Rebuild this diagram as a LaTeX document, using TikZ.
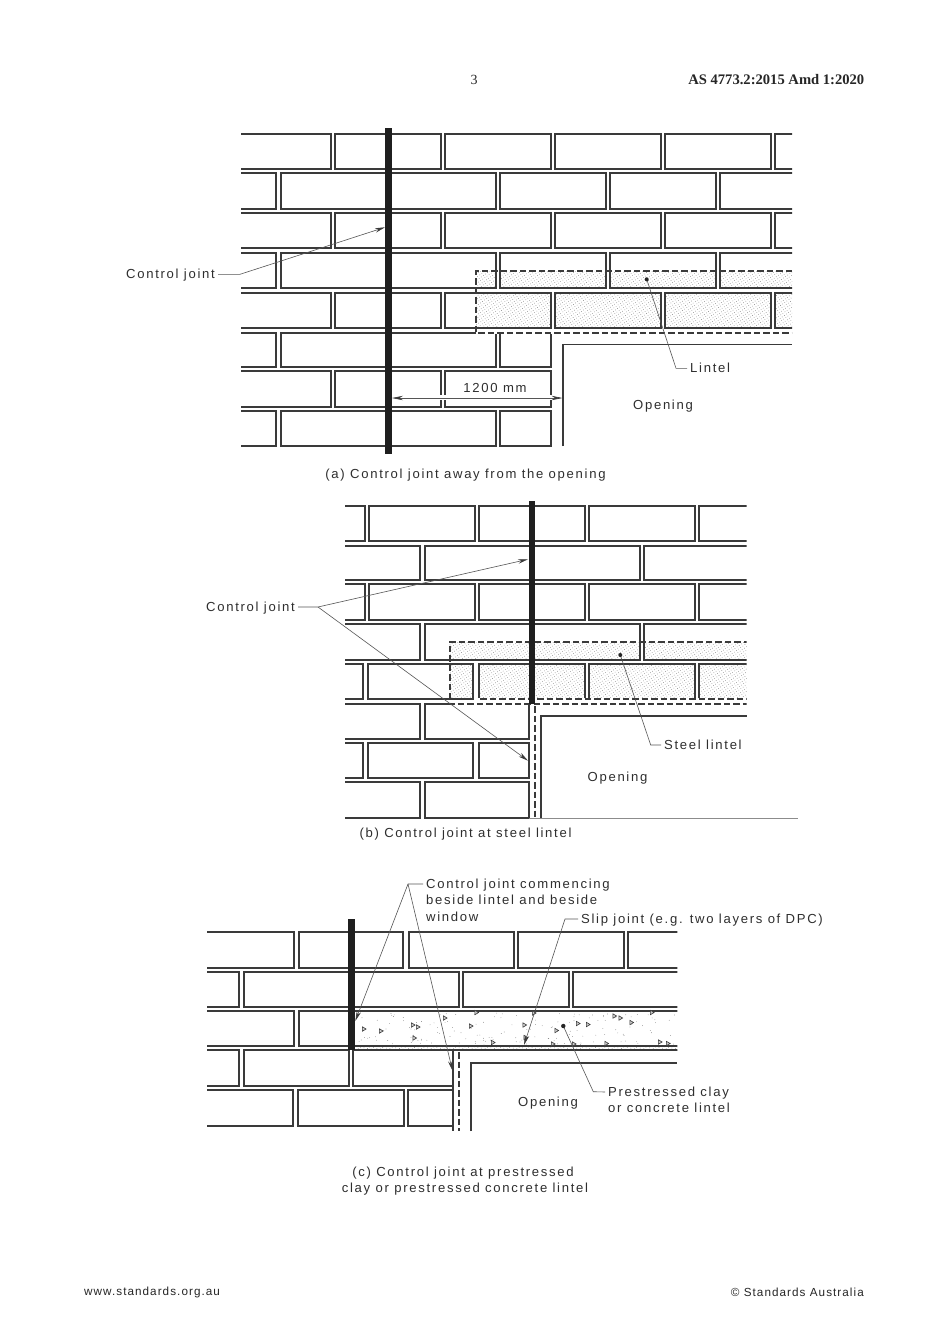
\documentclass[tikz,border=0pt]{standalone}
\usepackage{fontspec}
\setmainfont{Liberation Serif}
\newfontfamily\labelfont[LetterSpace=13]{Liberation Sans}
\newfontfamily\footfont[LetterSpace=9]{Liberation Sans}
\usetikzlibrary{arrows.meta,patterns.meta,positioning}

\definecolor{inkdark}{HTML}{3A3A3A}
\definecolor{inkleader}{HTML}{555555}

\tikzset{
	brickline/.style={draw=inkdark,line width=2pt},
	openingline/.style={draw=inkdark,line width=1.9pt},
	jointline/.style={draw=black!88,line width=7pt},
	hiddenline/.style={draw=inkdark,line width=1.6pt,dash pattern=on 6.5pt off 3pt},
	maskline/.style={draw=white,line width=2.5pt},
	stipple/.style={pattern={Dots[radius=.36pt,distance=2.6pt,angle=35]},pattern color=black!65},
	leaderline/.style={draw=inkleader,line width=.6pt},
	leaderarrow/.style={leaderline,-{Stealth[length=10pt,width=4.4pt,inkdark]}},
	leaderdot/.style={fill=black!85},
	speckline/.style={draw=inkdark,line width=.6pt,fill=black!20},
	lbl/.style={font=\labelfont\fontsize{13.1}{15}\selectfont,text=black!82,inner xsep=3pt,inner ysep=0pt,text height=8pt,text depth=0pt},
	foot/.style={font=\footfont\fontsize{11.7}{14}\selectfont,text=black!85,inner sep=0pt},
	page/.style={font=\fontsize{14}{15}\selectfont,text=black!85,inner sep=0pt}
}

\newcommand{\brickrow}[3]{\foreach \xa/\xb in {#3} \draw[brickline] (\xa,#1) rectangle (\xb,#2);}
\newcommand{\stiprow}[3]{\foreach \xa/\xb in {#3} \path[stipple] (\xa,#1) rectangle (\xb,#2);}

\begin{document}
\begin{tikzpicture}[x=1pt,y=-1pt]
	\useasboundingbox (0,0) rectangle (950,1344);
	\fill[white] (0,0) rectangle (950,1344);

	\node[page] (pagenum) at (474,80) {3};
	\node[page,anchor=east,font=\bfseries\fontsize{14.6}{15}\selectfont] (standardno) at (864.5,80) {AS 4773.2:2015 Amd 1:2020};
	\node[foot,anchor=west] (website) at (84,1292.5) {www.standards.org.au};
	\node[foot,anchor=east] (publisher) at (864,1292.5) {© Standards Australia};

	% panel a
	\begin{scope}
		\clip (241,120) rectangle (792,460);
		\stiprow{271}{288.3}{476/495.7,500.3/605.7,610/715.7,720/800}
		\stiprow{292.7}{328.3}{476/550.7,555.3/660.7,665/770.7,775/800}
		\brickrow{133.5}{169}{230/330.7,335.3/440.7,445.3/550.7,555.3/660.7,665/770.7,775/800}
		\brickrow{173}{208.7}{230/276,281/495.7,500.3/605.7,610/715.7,720/800}
		\brickrow{213.3}{248.3}{230/330.7,335.3/440.7,445.3/550.7,555.3/660.7,665/770.7,775/800}
		\brickrow{252.7}{288.3}{230/276,281/495.7,500.3/605.7,610/715.7,720/800}
		\brickrow{292.7}{328.3}{230/330.7,335.3/440.7,445.3/550.7,555.3/660.7,665/770.7,775/800}
		\brickrow{332.7}{367}{230/276,281/495.7,500.3/550.7}
		\brickrow{371}{406.7}{230/330.7,335.3/440.7,445.3/550.7}
		\brickrow{410.7}{446}{230/276,281/495.7,500.3/550.7}
		\draw[maskline] (476,332.7) -- (560,332.7);
		\draw[draw=white,line width=5pt] (392,397.5) -- (553,397.5);
		\draw[hiddenline] (792,271) -- (476,271) -- (476,332.7) -- (792,332.7);
	\end{scope}
	\draw[jointline] (388.5,128) -- (388.5,454);
	\draw[openingline] (563,446) -- (563,344.5) -- (792,344.5);

	\node[lbl,anchor=east] (jointa) at (218,274.3) {Control joint};
	\coordinate (jointaknee) at (240,274.3);
	\coordinate (jointatip) at (385,227.3);
	\draw[leaderarrow] (jointa.east) -- (jointaknee) -- (jointatip);
	\node[lbl,anchor=west] (lintela) at (687,368.3) {Lintel};
	\coordinate (lintelaknee) at (676,368.3);
	\coordinate (lintelapt) at (646.7,279.3);
	\draw[leaderline] (lintela.west) -- (lintelaknee) -- (lintelapt);
	\fill[leaderdot] (lintelapt) circle (2pt);
	\coordinate (dimleft) at (392,398);
	\coordinate (dimright) at (562.5,398);
	\draw[leaderline,{Stealth[length=11pt,width=4.4pt,inkdark]}-{Stealth[length=11pt,width=4.4pt,inkdark]}] (dimleft) -- (dimright);
	\node[lbl] (dimtext) at (495,388) {1200 mm};
	\node[lbl] (openinga) at (663,405) {Opening};
	\node[lbl] (captiona) at (465.5,474) {(a) Control joint away from the opening};

	% panel b
	\begin{scope}
		\clip (345,495) rectangle (746.7,830);
		\stiprow{642}{659.7}{449.7/640,644/760}
		\stiprow{664}{699}{449.7/473.3,478.7/585,589/695,698.7/760}
		\brickrow{506}{541.3}{335/365,369.3/475,479.3/585,589/695,698.7/760}
		\brickrow{546}{580}{335/420,424.7/640,644/760}
		\brickrow{584.3}{620}{335/365,369.3/475,479.3/585,589/695,698.7/760}
		\brickrow{624.3}{659.7}{335/420,424.7/640,644/760}
		\brickrow{664}{699}{335/363.3,368/473.3,478.7/585,589/695,698.7/760}
		\brickrow{704}{739.3}{335/420,424.7/529.3}
		\brickrow{743.3}{778}{335/363.3,368/473.3,478.7/529.3}
		\brickrow{782.3}{817.7}{335/420,424.7/529.3}
		\draw[maskline] (478,699) -- (750,699);
		\draw[maskline] (449.7,704) -- (529,704);
		\draw[hiddenline] (750,642) -- (449.7,642) -- (449.7,704) -- (750,704);
		\draw[hiddenline] (480,699) -- (750,699);
	\end{scope}
	\draw[jointline,line width=6.4pt] (532,501) -- (532,704);
	\draw[hiddenline] (535,706) -- (535,818);
	\draw[openingline] (541.3,817.7) -- (541.3,716.3) -- (746.7,716.3);
	\draw[draw=black!45,line width=1pt] (529,818) -- (798,818);

	\node[lbl,anchor=east] (jointb) at (298,607) {Control joint};
	\coordinate (jointbknee) at (318,607);
	\coordinate (jointbtipa) at (528,559.3);
	\coordinate (jointbtipb) at (528,760.7);
	\draw[leaderarrow] (jointb.east) -- (jointbknee) -- (jointbtipa);
	\draw[leaderarrow] (jointbknee) -- (jointbtipb);
	\node[lbl,anchor=west] (lintelb) at (661,745) {Steel lintel};
	\coordinate (lintelbknee) at (650.7,745);
	\coordinate (lintelbpt) at (620.3,655);
	\draw[leaderline] (lintelb.west) -- (lintelbknee) -- (lintelbpt);
	\fill[leaderdot] (lintelbpt) circle (2pt);
	\node[lbl] (openingb) at (617.5,777) {Opening};
	\node[lbl] (captionb) at (465.5,833) {(b) Control joint at steel lintel};

	% panel c
	\begin{scope}
		\clip (207,900) rectangle (677.3,1140);
		\stiprow{1046}{1050.3}{355/690}
		\brickrow{932.3}{967.7}{197/294.3,298.7/403.3,408.7/513.7,518/623.7,627.7/690}
		\brickrow{972}{1006.7}{197/239.3,243.7/458.7,463/568.7,573.3/690}
		\brickrow{1011}{1046}{197/294.3,298.7/349,349/690}
		\brickrow{1050.3}{1086}{197/239.3,243.7/349,353.3/452.7}
		\brickrow{1090.3}{1126}{197/293.3,298.3/403.7,408.3/452.7}
		\draw[brickline] (353.3,1050.3) -- (690,1050.3);
		\pgfmathsetseed{17}
		\foreach \n in {1,...,150} \fill[black!60] ({356+322*rnd},{1012+33*rnd}) circle (.35pt);
		\foreach \sx/\sy in {364/1029,381/1031,413/1025,418/1027,414.5/1038,445/1018,471/1026,476.5/1012.5,534/1013,524.5/1025,525.5/1037.5,493/1042.5,556.5/1030.5,578/1023.5,588/1024.5,614.5/1016,620.5/1018,631.5/1022.5,652/1012.5,553/1044,574/1044,606.5/1043.5,660/1042,668/1043.5}
			\draw[speckline] (\sx-1.6,\sy-2.2) -- (\sx+2.1,\sy) -- (\sx-1.6,\sy+2.2) -- cycle;
	\end{scope}
	\draw[draw=inkdark,line width=2pt] (452.7,1050.3) -- (452.7,1131);
	\draw[hiddenline] (458.7,1052) -- (458.7,1131);
	\draw[jointline] (351.8,919.3) -- (351.8,1050);
	\draw[openingline] (471,1131) -- (471,1063.3) -- (677.3,1063.3);

	\node[lbl,anchor=west] (jointc) at (423,884) {Control joint commencing};
	\node[lbl,anchor=west] (jointcb) at (423,900.5) {beside lintel and beside};
	\node[lbl,anchor=west] (jointcc) at (423,917) {window};
	\coordinate (jointcknee) at (408,884);
	\coordinate (jointctipa) at (355.3,1021);
	\coordinate (jointctipb) at (452.5,1070.7);
	\draw[leaderarrow] (jointc.west) -- (jointcknee) -- (jointctipa);
	\draw[leaderarrow] (jointcknee) -- (jointctipb);
	\node[lbl,anchor=west] (slip) at (578,919) {Slip joint (e.g. two layers of DPC)};
	\coordinate (slipknee) at (565,919);
	\coordinate (sliptip) at (524,1045);
	\draw[leaderarrow] (slip.west) -- (slipknee) -- (sliptip);
	\node[lbl,anchor=west] (lintelc) at (605,1092) {Prestressed clay};
	\node[lbl,anchor=west] (lintelcb) at (605,1108) {or concrete lintel};
	\coordinate (lintelcknee) at (593.3,1091.7);
	\coordinate (lintelcpt) at (563.3,1026);
	\draw[leaderline] (lintelc.west) -- (lintelcknee) -- (lintelcpt);
	\fill[leaderdot] (lintelcpt) circle (2.2pt);
	\node[lbl] (openingc) at (548,1102) {Opening};
	\node[lbl] (captionc) at (463,1172) {(c) Control joint at prestressed};
	\node[lbl] (captioncb) at (465,1188.5) {clay or prestressed concrete lintel};
\end{tikzpicture}
\end{document}
